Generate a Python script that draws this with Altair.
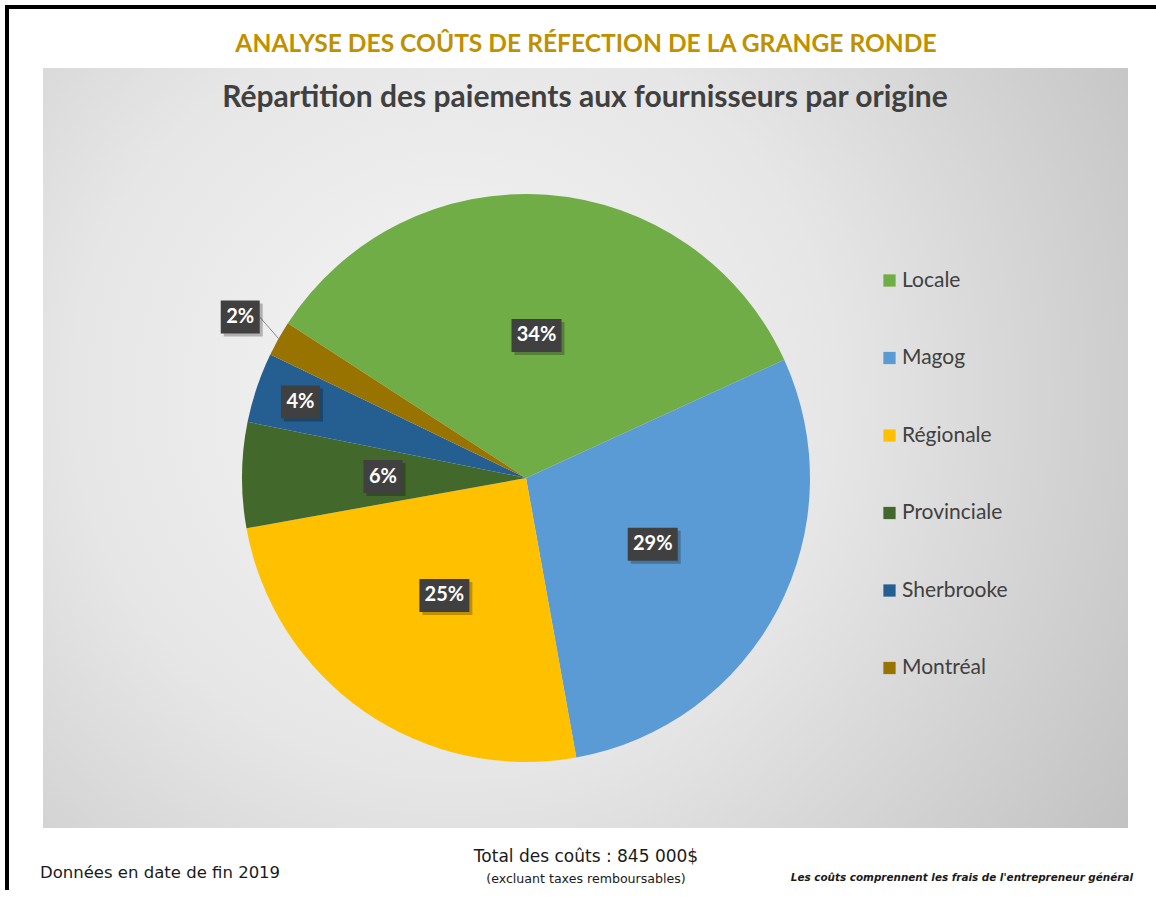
import math
import altair as alt
import pandas as pd

# ---- data ----
categories = ["Locale", "Magog", "Régionale", "Provinciale", "Sherbrooke", "Montréal"]
shares = [34, 29, 25, 6, 4, 2]
colors = ["#70AD47", "#5B9BD5", "#FFC000", "#43682B", "#255E91", "#997300"]

title_text = ["ANALYSE DES COÛTS DE RÉFECTION DE LA GRANGE RONDE"]
subtitle_text = ["Répartition des paiements aux fournisseurs par origine"]
note_left = ["Données en date de fin 2019"]
total_text = ["Total des coûts : 845 000$"]
total_sub = ["(excluant taxes remboursables)"]
note_right = ["Les coûts comprennent les frais de l'entrepreneur général"]

df = pd.DataFrame({"origine": categories, "part": shares, "ordre": list(range(len(categories)))})

# ---- layout (style) ----
W, H = 1156, 890
CX, CY, R = 526, 478, 284
START = math.radians(303)
R_IN, R_MID, R_OUT = 143, 238, 328
BOTTOM_FONT = "DejaVu Sans"


def one(lst, name="t"):
    return alt.Chart(pd.DataFrame({name: lst}))


border_top = one([""]).mark_rule(color="black", strokeWidth=4).encode(
    x=alt.value(5), x2=alt.value(W), y=alt.value(7))
border_left = one([""]).mark_rule(color="black", strokeWidth=4).encode(
    x=alt.value(7), y=alt.value(5), y2=alt.value(H))

panel = one([""]).mark_rect(
    fill=alt.Gradient(
        gradient="radial",
        stops=[alt.GradientStop(color="#F5F5F5", offset=0),
               alt.GradientStop(color="#E6E6E6", offset=0.45),
               alt.GradientStop(color="#BEBEBE", offset=1)],
        x1=0.38, y1=0.45, x2=0.38, y2=0.45, r1=0, r2=0.78),
).encode(x=alt.value(43), x2=alt.value(1128), y=alt.value(68), y2=alt.value(828))

base = alt.Chart(df)

pie = base.mark_arc(radius=R).encode(
    theta=alt.Theta("part:Q", stack=True, scale=alt.Scale(range=[START, START + 2 * math.pi])),
    color=alt.Color(
        "origine:N",
        sort=categories,
        scale=alt.Scale(domain=categories, range=colors),
        legend=alt.Legend(
            title=None, orient="none", legendX=879, legendY=270,
            symbolType="square", symbolSize=150, symbolStrokeWidth=0,
            labelFont="Lato", labelFontSize=21, labelColor="#404040",
            rowPadding=55.5, labelOffset=2,
        ),
    ),
    order=alt.Order("ordre:Q"),
    x=alt.value(CX),
    y=alt.value(CY),
)

lab = base.transform_joinaggregate(total="sum(part)").transform_window(
    cum="sum(part)", sort=[alt.SortField("ordre")], frame=[None, 0]
).transform_calculate(
    label="datum.part + '%'",
    mid=f"{START} + 2*PI*(datum.cum - datum.part/2)/datum.total",
    lr=f"datum.part >= 5 ? {R_IN} : (datum.part >= 3 ? {R_MID} : {R_OUT})",
    lx=f"{CX} + datum.lr*sin(datum.mid)",
    ly=f"{CY} - datum.lr*cos(datum.mid)",
    hw="(17 + 11*length(datum.label))/2",
    bx1="datum.lx - datum.hw",
    bx2="datum.lx + datum.hw",
    by1="datum.ly - 16.5",
    by2="datum.ly + 16.5",
    ex=f"{CX} + {R}*sin(datum.mid)",
    ey=f"{CY} - {R}*cos(datum.mid)",
)

X = lambda f: alt.X(f, type="quantitative", scale=None, axis=None)
Y = lambda f: alt.Y(f, type="quantitative", scale=None, axis=None)

leader = lab.transform_filter(f"datum.lr == {R_OUT}").mark_rule(color="#8C8C8C", strokeWidth=1).encode(
    x=X("bx2"), y=Y("ly"), x2="ex:Q", y2="ey:Q")
shadow = lab.mark_rect(color="black", opacity=0.25, xOffset=3, x2Offset=3, yOffset=3, y2Offset=3).encode(
    x=X("bx1"), x2="bx2:Q", y=Y("by1"), y2="by2:Q")
box = lab.mark_rect(color="#404040").encode(x=X("bx1"), x2="bx2:Q", y=Y("by1"), y2="by2:Q")
labels = lab.mark_text(font="Lato", fontWeight="bold", fontSize=20, color="white",
                       align="center", baseline="middle").encode(
    x=X("lx"), y=Y("ly"), text="label:N")

title = one(title_text).mark_text(font="Lato", fontWeight="bold", fontSize=24.6, color="#BF9000",
                                  align="center", baseline="middle").encode(
    x=alt.value(586), y=alt.value(45), text="t:N")
subtitle = one(subtitle_text).mark_text(font="Lato", fontWeight="bold", fontSize=30, color="#404040",
                                        align="center", baseline="middle").encode(
    x=alt.value(585), y=alt.value(98), text="t:N")
t_left = one(note_left).mark_text(font=BOTTOM_FONT, fontSize=16.5, color="#1a1a1a",
                                  align="left", baseline="middle").encode(
    x=alt.value(40), y=alt.value(873), text="t:N")
t_total = one(total_text).mark_text(font=BOTTOM_FONT, fontSize=17, color="#1a1a1a",
                                    align="center", baseline="middle").encode(
    x=alt.value(586), y=alt.value(857), text="t:N")
t_total_sub = one(total_sub).mark_text(font=BOTTOM_FONT, fontSize=12.6, color="#1a1a1a",
                                       align="center", baseline="middle").encode(
    x=alt.value(586), y=alt.value(879), text="t:N")
t_right = one(note_right).mark_text(font=BOTTOM_FONT, fontSize=10.4, fontWeight="bold", fontStyle="italic",
                                    color="#1a1a1a", align="right", baseline="middle").encode(
    x=alt.value(1133), y=alt.value(878), text="t:N")

chart = alt.layer(
    border_top, border_left, panel, pie, leader, shadow, box, labels,
    title, subtitle, t_left, t_total, t_total_sub, t_right,
).properties(
    width=W, height=H, padding=0, autosize="none", background="white"
).configure_view(stroke=None)

chart.save("out.html", embed_options={"renderer": "svg", "actions": False})
